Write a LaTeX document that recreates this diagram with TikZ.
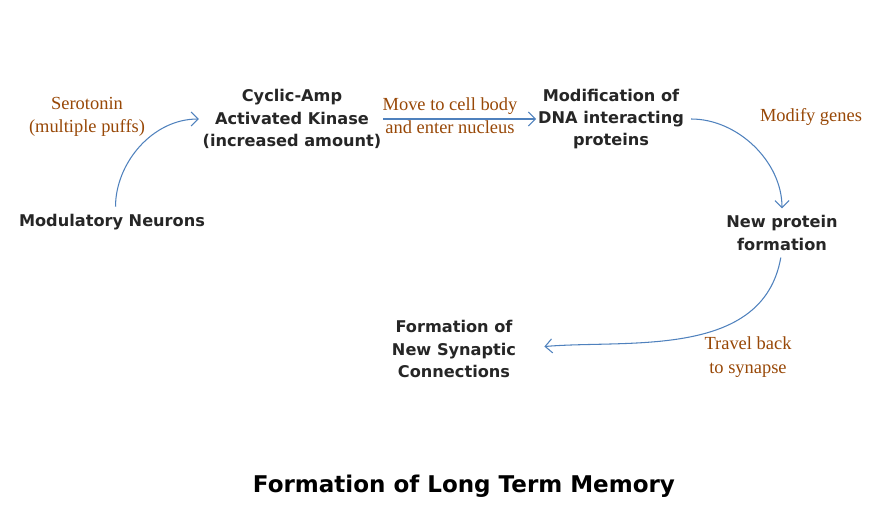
\documentclass[tikz,border=0pt]{standalone}
\usepackage{fontspec}
\setmainfont{Liberation Serif}
\newfontfamily\stagefont{DejaVu Sans}
\usetikzlibrary{arrows.meta}
\definecolor{arrowblue}{RGB}{79,129,189}
\definecolor{notebrown}{RGB}{152,72,7}

\tikzset{
  stage/.style = {align=center, inner sep=0pt, text=black!85,
                  font=\stagefont\bfseries\fontsize{9.2}{12.6}\selectfont},
  note/.style  = {align=center, inner sep=0pt, text=notebrown,
                  font=\fontsize{10.5}{13.2}\selectfont},
  flow/.style  = {draw=arrowblue, line width=0.6pt,
                  -{Straight Barb[length=4pt, width=8pt]}}
}

\begin{document}
\begin{tikzpicture}[x=0.02cm, y=-0.02cm]
\useasboundingbox (0,0) rectangle (888,520);

%stages
\node[stage] (neurons) at (112,222) {Modulatory Neurons};
\node[stage] (kinase)  at (292,119) {Cyclic-Amp\\Activated Kinase\\(increased amount)};
\node[stage] (dna)     at (611,119) {Modification of\\DNA interacting\\proteins};
\node[stage] (protein) at (782,233) {New protein\\formation};
\node[stage] (synapse) at (454,349) {Formation of\\New Synaptic\\Connections};

%notes
\node[note] (serotonin) at (87,117)  {Serotonin\\(multiple puffs)};
\node[note] (move)      at (450,116) {Move to cell body\\and enter nucleus};
\node[note] (genes)     at (811,117) {Modify genes};
\node[note] (travel)    at (748,357) {Travel back\\to synapse};

%draw edges
\draw[flow, shorten <=4pt, shorten >=2pt] ([xshift=2pt]neurons.north) to[out=90, in=180] (kinase.west);
\draw[flow, shorten <=1pt, shorten >=1pt] (kinase.east) -- (dna.west);
\draw[flow, shorten <=4pt, shorten >=4pt] (dna.east) to[out=0, in=90] (protein.north);
\draw[flow, shorten <=4pt, shorten >=16pt] (protein.south) to[out=-100, in=5] (synapse.east);

%title
\node[stage, text=black, font=\stagefont\bfseries\fontsize{13.1}{16}\selectfont] (title) at (464,486) {Formation of Long Term Memory};

\end{tikzpicture}
\end{document}
